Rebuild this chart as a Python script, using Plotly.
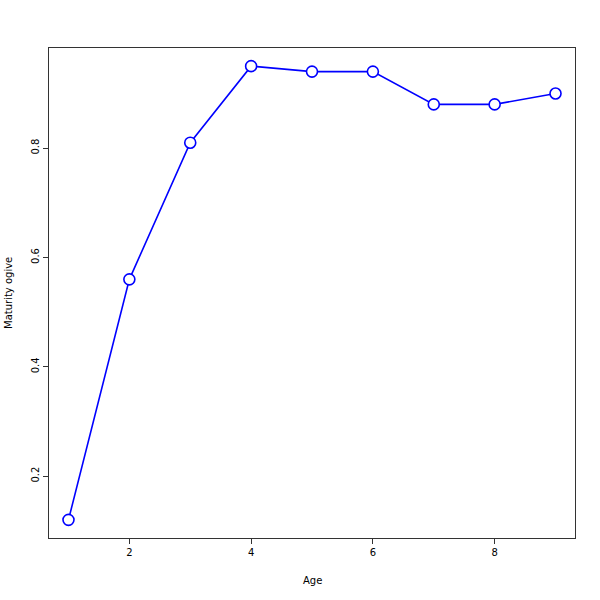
import plotly.graph_objects as go

ages = [1, 2, 3, 4, 5, 6, 7, 8, 9]
maturity = [0.12, 0.56, 0.81, 0.95, 0.94, 0.94, 0.88, 0.88, 0.90]
x_ticks = [2, 4, 6, 8]
y_ticks = [0.2, 0.4, 0.6, 0.8]
y_tick_labels = ["0.2", "0.4", "0.6", "0.8"]

xmin, xmax = min(ages), max(ages)
ymin, ymax = min(maturity), max(maturity)
xpad = 0.04 * (xmax - xmin)
ypad = 0.04 * (ymax - ymin)

fig = go.Figure()
fig.add_trace(go.Scatter(
    x=ages, y=maturity, mode="lines+markers",
    line=dict(color="#0000ff", width=1.6),
    marker=dict(symbol="circle", size=11, color="white",
                line=dict(color="#0000ff", width=1.6)),
    showlegend=False, cliponaxis=False,
))

axis_common = dict(showgrid=False, zeroline=False, showline=True,
                   linecolor="#333333", linewidth=1, mirror=True,
                   ticks="outside", ticklen=5, tickcolor="#333333",
                   tickfont=dict(family="DejaVu Sans", size=10, color="black"))

fig.update_xaxes(range=[xmin - xpad, xmax + xpad], tickvals=x_ticks, **axis_common)
fig.update_yaxes(range=[ymin - ypad, ymax + ypad], tickvals=y_ticks,
                 ticktext=y_tick_labels, tickangle=-90, **axis_common)

fig.update_layout(
    width=600, height=600,
    margin=dict(l=49, r=25, t=48, b=62),
    paper_bgcolor="white", plot_bgcolor="white",
    font=dict(family="DejaVu Sans", size=10, color="black"),
    hovermode=False,
    annotations=[
        dict(text="Age", xref="paper", yref="paper", x=0.5, y=0,
             yshift=-42, showarrow=False, xanchor="center", yanchor="middle",
             font=dict(family="DejaVu Sans", size=10, color="black")),
        dict(text="Maturity ogive", xref="paper", yref="paper", x=0, y=0.5,
             xshift=-41, showarrow=False, textangle=-90,
             xanchor="center", yanchor="middle",
             font=dict(family="DejaVu Sans", size=10, color="black")),
    ],
)

fig.write_html("out.html", config={"displayModeBar": False},
               post_script="document.body.style.margin='0';")
